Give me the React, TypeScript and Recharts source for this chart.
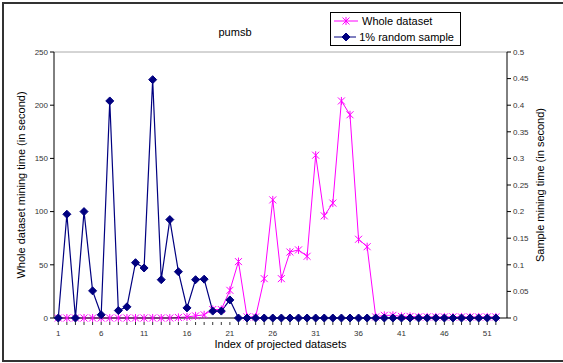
import React from 'react'
import {
  LineChart,
  Line,
  XAxis,
  YAxis,
  ReferenceLine,
} from 'recharts'

// 数据：横轴为投影数据集序号 1..52
const indexes = Array.from({ length: 52 }, (_, i) => i + 1)

// 整个数据集挖掘时间（秒，左轴）
const wholeDataset = [
  0, 0, 0, 0, 0, 0, 0, 0, 0, 0,
  0, 0, 0, 0, 0.5, 1, 2, 3, 8, 8,
  26, 53, 1, 1, 37, 111, 37, 62, 64, 58,
  153, 96, 108, 204, 191, 74, 67, 1, 2.5, 2.5,
  1.5, 1.5, 1, 1, 1, 1, 1, 1, 1, 1,
  1, 1,
]

// 1% 随机样本挖掘时间（秒，右轴）
const randomSample = [
  0, 0.195, 0, 0.2, 0.051, 0.006, 0.408, 0.014, 0.021, 0.104,
  0.094, 0.448, 0.072, 0.185, 0.087, 0.019, 0.072, 0.073, 0.013, 0.013,
  0.034, 0, 0, 0, 0, 0, 0, 0, 0, 0,
  0, 0, 0, 0, 0, 0, 0, 0, 0, 0,
  0, 0, 0, 0, 0, 0, 0, 0, 0, 0,
  0, 0,
]

const leftTicks = [0, 50, 100, 150, 200, 250]
const rightTicks = [0, 0.05, 0.1, 0.15, 0.2, 0.25, 0.3, 0.35, 0.4, 0.45, 0.5]

const MAGENTA = '#ff00ff'
const NAVY = '#000080'
const FONT = '"Liberation Sans", Arial, sans-serif'

const data = indexes.map((idx, i) => ({
  idx,
  whole: wholeDataset[i],
  sample: randomSample[i],
}))

function StarDot(props: any) {
  const { cx, cy } = props
  if (cx == null || cy == null) return null
  const r = 3.5
  return (
    <g stroke={MAGENTA} strokeWidth={1}>
      <line x1={cx - r} y1={cy - r} x2={cx + r} y2={cy + r} />
      <line x1={cx - r} y1={cy + r} x2={cx + r} y2={cy - r} />
      <line x1={cx} y1={cy - r - 0.5} x2={cx} y2={cy + r + 0.5} />
    </g>
  )
}

function DiamondDot(props: any) {
  const { cx, cy } = props
  if (cx == null || cy == null) return null
  const r = 4
  return (
    <polygon
      points={`${cx},${cy - r} ${cx + r},${cy} ${cx},${cy + r} ${cx - r},${cy}`}
      fill={NAVY}
      stroke={NAVY}
    />
  )
}

function XTick(props: any) {
  const { x, y, payload } = props
  const show = (payload.value - 1) % 5 === 0
  return (
    <g>
      <line x1={x} y1={y - 4} x2={x} y2={y - 1} stroke="#000" strokeWidth={0.8} />
      {show && (
        <text x={x} y={y + 10} textAnchor="middle" fontSize={8} fill="#333" fontFamily={FONT}>
          {payload.value}
        </text>
      )}
    </g>
  )
}

function LegendBox() {
  const item = (color: string, dot: React.ReactNode, label: string) => (
    <div style={{ display: 'flex', alignItems: 'center', height: 16 }}>
      <svg width={26} height={12} style={{ marginRight: 3 }}>
        <line x1={1} y1={6} x2={25} y2={6} stroke={color} strokeWidth={1} />
        {dot}
      </svg>
      <span style={{ fontSize: 11, fontFamily: FONT, color: '#000', whiteSpace: 'nowrap' }}>{label}</span>
    </div>
  )
  return (
    <div
      style={{
        position: 'absolute',
        left: 330,
        top: 12,
        border: '1px solid #000',
        background: '#fff',
        padding: '0px 6px 0px 2px',
        width: 121,
      }}
    >
      {item(MAGENTA, <StarDot cx={13} cy={6} />, 'Whole dataset')}
      {item(NAVY, <DiamondDot cx={13} cy={6} />, '1% random sample')}
    </div>
  )
}

export default function App() {
  return (
    <div style={{ position: 'fixed', left: 0, top: 0, width: 563, height: 363, background: '#fff' }}>
      {/* 外框 */}
      <div
        style={{
          position: 'absolute',
          left: 2,
          top: 2,
          width: 640,
          height: 360,
          boxSizing: 'border-box',
          border: '2px solid #333',
        }}
      />
      <div
        style={{
          position: 'absolute',
          left: 0,
          top: 26,
          width: 470,
          textAlign: 'center',
          fontSize: 11,
          fontFamily: FONT,
        }}
      >
        pumsb
      </div>
      <LineChart
        width={563}
        height={363}
        data={data}
        margin={{ top: 52, right: 0, bottom: 0, left: 0 }}
        style={{ position: 'absolute', left: 0, top: 0 }}
      >
        <XAxis
          dataKey="idx"
          type="number"
          domain={[0.5, 53.3]}
          ticks={indexes}
          interval={0}
          height={45}
          tick={<XTick />}
          tickLine={false}
          axisLine={{ stroke: '#000' }}
          allowDataOverflow
          label={{
            value: 'Index of projected datasets',
            position: 'insideBottom',
            offset: 15,
            style: { fontSize: 11, fontFamily: FONT, fill: '#000' },
          }}
        />
        <YAxis
          yAxisId="left"
          domain={[0, 250]}
          ticks={leftTicks}
          width={54}
          tickSize={4}
          tick={{ fontSize: 8, fill: '#333', fontFamily: FONT }}
          axisLine={{ stroke: '#000' }}
          tickLine={{ stroke: '#000' }}
          label={{
            value: 'Whole dataset mining time (in second)',
            angle: -90,
            position: 'insideLeft',
            offset: 21,
            style: { textAnchor: 'middle', fontSize: 11, fontFamily: FONT, fill: '#000' },
          }}
        />
        <YAxis
          yAxisId="right"
          orientation="right"
          domain={[0, 0.5]}
          ticks={rightTicks}
          width={56}
          tickSize={4}
          tick={{ fontSize: 8, fill: '#333', fontFamily: FONT }}
          axisLine={{ stroke: '#000' }}
          tickLine={{ stroke: '#000' }}
          tickFormatter={(v: number) => String(Math.round(v * 100) / 100)}
          label={{
            value: 'Sample mining time (in second)',
            angle: -90,
            position: 'insideRight',
            offset: 23,
            style: { textAnchor: 'middle', fontSize: 11, fontFamily: FONT, fill: '#000' },
          }}
        />
        <ReferenceLine yAxisId="left" y={250} stroke="#aaa" strokeWidth={1} />
        <Line
          yAxisId="left"
          dataKey="whole"
          name="Whole dataset"
          stroke={MAGENTA}
          strokeWidth={1}
          dot={<StarDot />}
          activeDot={false}
          isAnimationActive={false}
        />
        <Line
          yAxisId="right"
          dataKey="sample"
          name="1% random sample"
          stroke={NAVY}
          strokeWidth={1.2}
          dot={<DiamondDot />}
          activeDot={false}
          isAnimationActive={false}
        />
      </LineChart>
      <LegendBox />
    </div>
  )
}
